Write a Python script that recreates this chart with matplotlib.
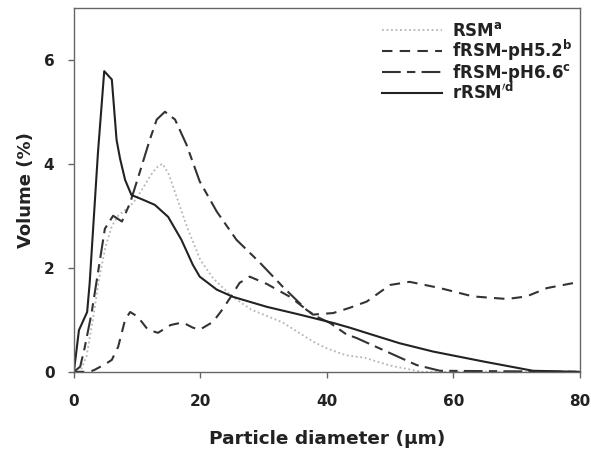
import matplotlib
matplotlib.use("Agg")
import matplotlib.pyplot as plt

# diametro de particula (um) y volumen (%)
x_rsm = [0, 1, 2, 3, 4, 5, 6, 7, 8, 9, 10, 11, 12, 13, 14, 15, 16, 17, 18, 19, 20,
         22, 25, 28, 30, 33, 36, 38, 40, 43, 46, 50, 55, 80]
y_rsm = [0, 0, 0.3, 1.0, 1.8, 2.4, 2.8, 3.0, 3.1, 3.2, 3.35, 3.55, 3.75, 3.92, 4.0, 3.8,
         3.45, 3.1, 2.75, 2.45, 2.15, 1.8, 1.45, 1.2, 1.1, 0.95, 0.72, 0.57, 0.45, 0.32,
         0.27, 0.12, 0, 0]

x_ph52 = [0, 2.5, 3.3, 5, 6, 7, 8.1, 8.9, 10.1, 11.7, 13.3, 15.3, 17.2, 18.8, 19.9, 22,
          23.5, 24.7, 26.2, 27.8, 30.5, 34.2, 37.8, 41, 43.6, 46.3, 50, 53.1, 57.9, 63.1,
          68.5, 71.6, 74.8, 80]
y_ph52 = [0, 0, 0.04, 0.15, 0.23, 0.48, 1.0, 1.15, 1.06, 0.81, 0.75, 0.9, 0.95, 0.85,
          0.81, 0.96, 1.2, 1.42, 1.71, 1.83, 1.69, 1.44, 1.1, 1.13, 1.23, 1.35, 1.67,
          1.73, 1.61, 1.45, 1.4, 1.45, 1.61, 1.73]

x_ph66 = [0, 1, 1.7, 2.8, 3.8, 4.9, 6.2, 7.6, 8.9, 10.4, 12, 13.1, 14.4, 16, 17.8, 19.9,
          22.6, 25.7, 29.4, 33, 36.8, 38.4, 40.5, 43.1, 44.7, 48.9, 54.2, 57.9, 80]
y_ph66 = [0, 0.1, 0.46, 1.13, 1.9, 2.75, 3.0, 2.89, 3.25, 3.83, 4.46, 4.85, 5.0, 4.85,
          4.37, 3.66, 3.08, 2.54, 2.1, 1.64, 1.19, 1.06, 0.94, 0.72, 0.65, 0.42, 0.13,
          0.02, 0]

x_r = [0, 0.8, 2.1, 2.5, 3.8, 4.8, 6.0, 6.75, 7.3, 8.1, 9.1, 10.9, 12.8, 14.9, 17, 18.8,
       19.9, 22.6, 25.2, 30.5, 35.7, 41, 43.6, 47, 51.5, 56.8, 64.7, 72.6, 80]
y_r = [0, 0.8, 1.15, 1.71, 4.2, 5.78, 5.62, 4.46, 4.1, 3.69, 3.4, 3.31, 3.21, 2.98, 2.54,
       2.06, 1.83, 1.58, 1.44, 1.25, 1.1, 0.94, 0.85, 0.72, 0.55, 0.39, 0.2, 0.02, 0]

etiquetas = [r"RSM$^{\mathbf{a}}$", r"fRSM-pH5.2$^{\mathbf{b}}$",
             r"fRSM-pH6.6$^{\mathbf{c}}$", r"rRSM$^{\prime\mathbf{d}}$"]

plt.rcParams["mathtext.default"] = "bf"

fig = plt.figure(figsize=(5.91, 4.54), dpi=100)
ax = fig.add_axes([0.125, 0.181, 0.856, 0.802])

ax.plot(x_rsm, y_rsm, color="#b5b5b5", lw=1.3, ls=(0, (1, 1.5)), label=etiquetas[0])
ax.plot(x_ph52, y_ph52, color="#333333", lw=1.5, ls=(0, (5, 3.5)), label=etiquetas[1])
ax.plot(x_ph66, y_ph66, color="#333333", lw=1.5, ls=(0, (9, 3, 4, 3)), label=etiquetas[2])
ax.plot(x_r, y_r, color="#222222", lw=1.5, label=etiquetas[3])

ax.set_xlim(0, 80)
ax.set_ylim(0, 7)
ax.set_xticks([0, 20, 40, 60, 80])
ax.set_yticks([0, 2, 4, 6])
ax.tick_params(direction="out", length=4, width=1, color="#666666", labelsize=11)
ax.tick_params(axis="x", pad=12)
ax.tick_params(axis="y", pad=10)
for lab in ax.get_xticklabels() + ax.get_yticklabels():
    lab.set_fontweight("bold")
    lab.set_color("#222222")
for s in ax.spines.values():
    s.set_color("#666666")
    s.set_linewidth(1)

ax.set_xlabel("Particle diameter (\u03bcm)", fontsize=13.3, fontweight="bold",
              color="#222222", labelpad=15)
ax.set_ylabel("Volume (%)", fontsize=13, fontweight="bold", color="#222222",
              labelpad=6)

leg = ax.legend(loc="upper right", bbox_to_anchor=(1.013, 1.0), frameon=False,
                prop={"weight": "bold", "size": 12}, handlelength=3.6,
                labelspacing=-0.1, handletextpad=0.6, borderaxespad=0.45)
for t in leg.get_texts():
    t.set_color("#222222")

fig.savefig("out.png", dpi=100)
